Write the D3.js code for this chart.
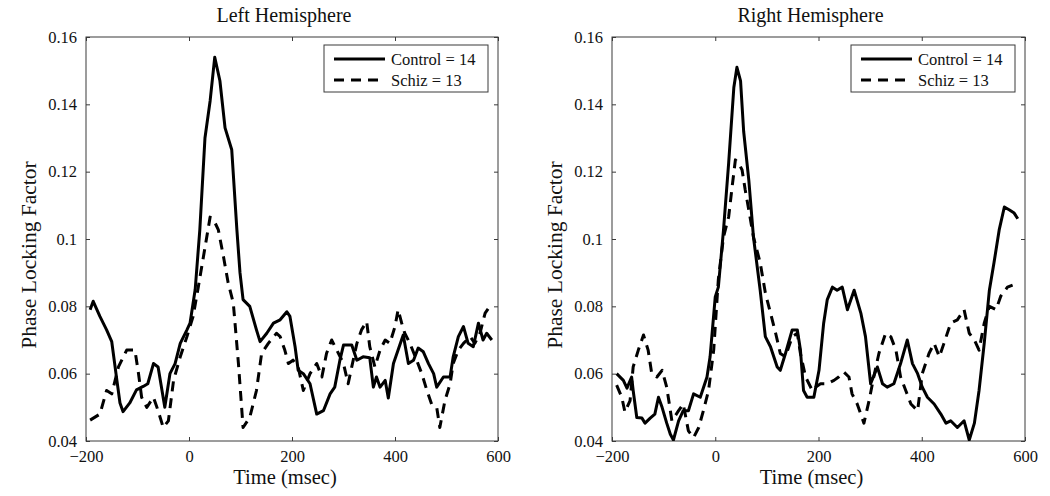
<!DOCTYPE html>
<html>
<head>
<meta charset="utf-8">
<script src="https://cdn.jsdelivr.net/npm/d3@7"></script>
<style>
  html, body { margin: 0; padding: 0; background: #fff; }
  svg { display: block; }
  svg text { font-family: 'Liberation Serif', Tinos, 'Times New Roman', Times, 'Nimbus Roman', 'DejaVu Serif', serif; fill: #111; }
</style>
</head>
<body>
<svg id="chart" width="1050" height="496"></svg>
<script>
// ---------- data (time in msec, value = phase locking factor) ----------
const xTicks = [-200, 0, 200, 400, 600];
const yTicks = [0.04, 0.06, 0.08, 0.1, 0.12, 0.14, 0.16];
const yTickLabels = ["0.04", "0.06", "0.08", "0.1", "0.12", "0.14", "0.16"];
const panelTitles = ["Left Hemisphere", "Right Hemisphere"];
const seriesNames = ["Control = 14", "Schiz = 13"];

const leftControl = [
  [-192,0.079],[-186,0.0815],[-173,0.077],[-160,0.073],[-150,0.0695],[-140,0.058],[-134,0.0513],[-128,0.0487],
  [-115,0.0513],[-102,0.0552],[-89,0.0562],[-80,0.057],[-69,0.063],[-60,0.062],[-47,0.050],[-37,0.060],
  [-27,0.063],[-17,0.069],[-4,0.073],[2,0.075],[12,0.085],[21,0.1027],[31,0.130],[41,0.141],[50,0.154],
  [60,0.147],[70,0.133],[83,0.1265],[93,0.1027],[99,0.090],[105,0.082],[118,0.080],[131,0.073],[138,0.0695],
  [151,0.072],[164,0.075],[177,0.076],[190,0.0784],[196,0.077],[206,0.068],[212,0.061],[222,0.060],[235,0.057],
  [248,0.048],[261,0.049],[274,0.054],[283,0.056],[293,0.064],[300,0.0685],[316,0.0685],[326,0.064],[338,0.065],
  [351,0.0647],[358,0.056],[364,0.059],[371,0.056],[381,0.058],[387,0.0528],[397,0.063],[406,0.067],[416,0.0715],
  [426,0.063],[436,0.064],[445,0.0676],[455,0.0665],[465,0.063],[475,0.060],[481,0.056],[494,0.059],[507,0.059],
  [513,0.065],[523,0.071],[533,0.074],[542,0.069],[552,0.068],[562,0.075],[571,0.070],[578,0.072],[588,0.070]
];
const leftSchiz = [
  [-192,0.0462],[-173,0.048],[-160,0.055],[-150,0.054],[-137,0.062],[-121,0.067],[-105,0.067],[-98,0.060],
  [-92,0.053],[-82,0.050],[-69,0.053],[-60,0.049],[-50,0.044],[-40,0.046],[-30,0.058],[-17,0.065],[-4,0.071],
  [8,0.077],[18,0.0857],[28,0.0947],[41,0.1065],[50,0.105],[57,0.1027],[67,0.0947],[76,0.087],[86,0.081],
  [96,0.063],[105,0.044],[118,0.047],[131,0.055],[141,0.066],[154,0.069],[170,0.072],[177,0.071],[186,0.067],
  [193,0.063],[202,0.064],[212,0.062],[222,0.055],[235,0.060],[248,0.063],[258,0.059],[267,0.066],[277,0.070],
  [287,0.067],[300,0.063],[309,0.057],[316,0.062],[326,0.069],[335,0.073],[345,0.0755],[351,0.068],[361,0.062],
  [371,0.067],[381,0.070],[390,0.069],[400,0.074],[406,0.079],[413,0.075],[419,0.072],[429,0.069],[442,0.064],
  [452,0.060],[462,0.055],[471,0.051],[481,0.050],[487,0.044],[497,0.052],[507,0.057],[513,0.063],[523,0.067],
  [533,0.069],[546,0.071],[555,0.069],[565,0.072],[575,0.078],[584,0.080]
];
const rightControl = [
  [-191,0.060],[-178,0.058],[-171,0.0557],[-162,0.059],[-159,0.055],[-152,0.047],[-142,0.0468],[-136,0.0453],
  [-126,0.0468],[-117,0.048],[-110,0.053],[-103,0.050],[-94,0.0453],[-87,0.042],[-81,0.0403],[-71,0.046],
  [-62,0.049],[-52,0.049],[-42,0.054],[-29,0.053],[-16,0.059],[-10,0.065],[0,0.0828],[6,0.0857],[16,0.1027],
  [26,0.1226],[36,0.145],[42,0.151],[49,0.147],[55,0.132],[65,0.1175],[74,0.1006],[87,0.0848],[97,0.071],
  [107,0.068],[120,0.062],[126,0.061],[136,0.066],[149,0.073],[159,0.073],[165,0.067],[171,0.055],[178,0.053],
  [191,0.053],[201,0.061],[210,0.075],[217,0.082],[227,0.0857],[236,0.0848],[246,0.0857],[256,0.079],[269,0.0848],
  [282,0.078],[291,0.071],[301,0.057],[314,0.062],[324,0.057],[333,0.056],[346,0.057],[359,0.063],[372,0.070],
  [382,0.063],[392,0.060],[401,0.056],[411,0.053],[424,0.051],[437,0.048],[447,0.0453],[456,0.046],[469,0.044],
  [482,0.046],[492,0.0403],[502,0.0453],[511,0.055],[521,0.069],[531,0.0848],[540,0.093],[550,0.1027],
  [560,0.1095],[570,0.1086],[579,0.1077],[586,0.106]
];
const rightSchiz = [
  [-191,0.0566],[-181,0.053],[-175,0.0486],[-165,0.052],[-159,0.062],[-149,0.067],[-139,0.0715],[-130,0.067],
  [-123,0.060],[-113,0.059],[-103,0.061],[-94,0.056],[-84,0.046],[-71,0.049],[-62,0.051],[-52,0.043],[-42,0.041],
  [-32,0.044],[-23,0.049],[-13,0.055],[-3,0.067],[6,0.088],[16,0.1006],[26,0.1066],[32,0.1146],[39,0.1235],
  [45,0.1226],[52,0.1205],[58,0.1146],[65,0.1086],[74,0.1006],[87,0.093],[97,0.084],[107,0.078],[117,0.072],
  [126,0.066],[136,0.065],[149,0.071],[159,0.072],[165,0.066],[175,0.059],[188,0.055],[194,0.056],[204,0.057],
  [217,0.057],[230,0.058],[239,0.059],[249,0.0605],[259,0.059],[265,0.054],[275,0.051],[288,0.0453],[298,0.052],
  [307,0.059],[317,0.066],[330,0.072],[340,0.071],[350,0.067],[359,0.059],[369,0.055],[379,0.051],[392,0.049],
  [401,0.060],[414,0.066],[424,0.069],[434,0.065],[443,0.069],[456,0.075],[469,0.076],[482,0.079],[492,0.072],
  [502,0.070],[511,0.067],[521,0.075],[531,0.080],[544,0.079],[553,0.083],[566,0.0857],[576,0.0863]
];

// ---------- layout ----------
const FONT = "'Liberation Serif', Tinos, 'Times New Roman', Times, 'Nimbus Roman', 'DejaVu Serif', serif";
const svg = d3.select("#chart");
const plotTop = 37, plotBottom = 441;
const panels = [
  { left: 86,  right: 498,  title: panelTitles[0], control: leftControl,  schiz: leftSchiz },
  { left: 612, right: 1025, title: panelTitles[1], control: rightControl, schiz: rightSchiz }
];
const axisColor = "#3a3a3a";

panels.forEach(p => {
  const x = d3.scaleLinear().domain([-200, 600]).range([p.left, p.right]);
  const y = d3.scaleLinear().domain([0.04, 0.16]).range([plotBottom, plotTop]);
  const g = svg.append("g").attr("font-family", FONT);
  const cx = (p.left + p.right) / 2;

  // frame
  g.append("rect")
    .attr("x", p.left).attr("y", plotTop)
    .attr("width", p.right - p.left).attr("height", plotBottom - plotTop)
    .attr("fill", "none").attr("stroke", axisColor).attr("stroke-width", 1);

  // axes (ticks pointing inward, on all four sides)
  const fmtY = v => yTickLabels[yTicks.indexOf(v)];
  const styleAxis = sel => {
    sel.attr("font-family", FONT).attr("font-size", 16.5);
    sel.select(".domain").remove();
    sel.selectAll(".tick line").attr("stroke", axisColor);
    sel.selectAll(".tick text").attr("fill", "#111");
  };
  g.append("g").attr("transform", `translate(0,${plotBottom})`)
    .call(d3.axisBottom(x).tickValues(xTicks).tickSizeInner(-4).tickSizeOuter(0).tickPadding(9))
    .call(styleAxis);
  g.append("g").attr("transform", `translate(0,${plotTop})`)
    .call(d3.axisTop(x).tickValues(xTicks).tickSizeInner(-4).tickSizeOuter(0).tickFormat(""))
    .call(styleAxis);
  g.append("g").attr("transform", `translate(${p.left},0)`)
    .call(d3.axisLeft(y).tickValues(yTicks).tickFormat(fmtY).tickSizeInner(-4).tickSizeOuter(0).tickPadding(9))
    .call(styleAxis);
  g.append("g").attr("transform", `translate(${p.right},0)`)
    .call(d3.axisRight(y).tickValues(yTicks).tickFormat("").tickSizeInner(-4).tickSizeOuter(0))
    .call(styleAxis);

  // clip
  const clipId = "clip" + p.left;
  svg.append("clipPath").attr("id", clipId).append("rect")
    .attr("x", p.left).attr("y", plotTop).attr("width", p.right - p.left).attr("height", plotBottom - plotTop);

  const line = d3.line().x(d => x(d[0])).y(d => y(d[1]));
  g.append("path").datum(p.control).attr("d", line)
    .attr("clip-path", `url(#${clipId})`)
    .attr("fill", "none").attr("stroke", "#000").attr("stroke-width", 3)
    .attr("stroke-linejoin", "round");
  g.append("path").datum(p.schiz).attr("d", line)
    .attr("clip-path", `url(#${clipId})`)
    .attr("fill", "none").attr("stroke", "#000").attr("stroke-width", 3)
    .attr("stroke-dasharray", "10,7").attr("stroke-linejoin", "round");

  // titles and labels
  g.append("text").attr("x", cx - 8).attr("y", 22).attr("text-anchor", "middle")
    .attr("font-size", 20).text(p.title);
  g.append("text").attr("x", cx - 7).attr("y", 484).attr("text-anchor", "middle")
    .attr("font-size", 20.5).text("Time (msec)");
  g.append("text")
    .attr("transform", `translate(${p.left - 50},255) rotate(-90)`)
    .attr("text-anchor", "middle")
    .attr("font-size", 21.5).text("Phase Locking Factor");

  // legend
  const lx = p.right - 174, ly = 45, lw = 164, lh = 47;
  const lg = g.append("g");
  lg.append("rect").attr("x", lx).attr("y", ly).attr("width", lw).attr("height", lh)
    .attr("fill", "#fff").attr("stroke", axisColor).attr("stroke-width", 1);
  [[59, null], [80, "10,7"]].forEach(([yy, dash], i) => {
    const l = lg.append("line").attr("x1", lx + 10).attr("x2", lx + 61)
      .attr("y1", yy).attr("y2", yy).attr("stroke", "#000").attr("stroke-width", 3);
    if (dash) l.attr("stroke-dasharray", dash);
    lg.append("text").attr("x", lx + 67).attr("y", yy + 6)
      .attr("font-size", 16.5).text(seriesNames[i]);
  });
});
</script>
</body>
</html>
